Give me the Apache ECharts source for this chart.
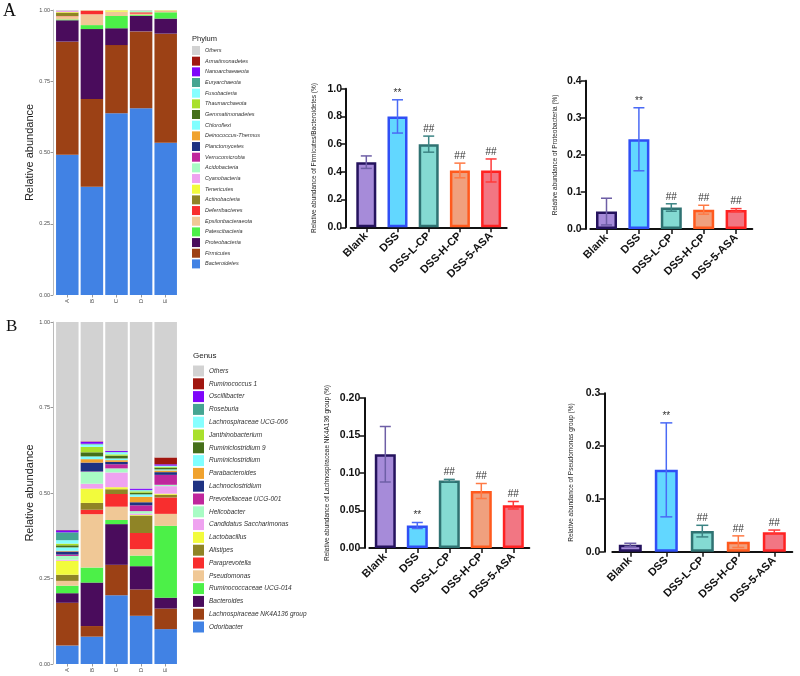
<!DOCTYPE html>
<html>
<head>
<meta charset="utf-8">
<script src="https://cdn.jsdelivr.net/npm/echarts@6/dist/echarts.min.js"></script>
<style>
  html, body { margin: 0; padding: 0; background: #fff; }
  #main { width: 800px; height: 676px; }
</style>
</head>
<body>
<div id="main"></div>
<script>
/* ========== data ========== */

const samples = ['A', 'B', 'C', 'D', 'E']
const groups = ['Blank', 'DSS', 'DSS-L-CP', 'DSS-H-CP', 'DSS-5-ASA']

// stacked bottom -> top, one row per taxon, columns = samples
const phylumNames = [
  'Bacteroidetes', 'Firmicutes', 'Proteobacteria', 'Patescibacteria', 'Epsilonbacteraeota',
  'Deferribacteres', 'Actinobacteria', 'Tenericutes', 'Cyanobacteria', 'Acidobacteria',
  'Verrucomicrobia', 'Planctomycetes', 'Deinococcus-Thermus', 'Chloroflexi', 'Gemmatimonadetes',
  'Thaumarchaeota', 'Fusobacteria', 'Euryarchaeota', 'Nanoarchaeaeota', 'Armatimonadetes', 'Others'
]
const phylumShares = [
  [0.492, 0.380, 0.638, 0.655, 0.534],
  [0.397, 0.308, 0.239, 0.270, 0.383],
  [0.075, 0.245, 0.059, 0.054, 0.053],
  [0.003, 0.014, 0.043, 0.003, 0.022],
  [0.011, 0.038, 0.015, 0.005, 0.004],
  [0.001, 0.013, 0.000, 0.005, 0.001],
  [0.012, 0.000, 0.000, 0.000, 0.000],
  [0.002, 0.001, 0.005, 0.000, 0.002],
  [0.004, 0.000, 0.000, 0.000, 0.000],
  [0.000, 0.000, 0.000, 0.005, 0.000],
  [0, 0, 0, 0, 0],
  [0, 0, 0, 0, 0],
  [0, 0, 0, 0, 0],
  [0, 0, 0, 0, 0],
  [0, 0, 0, 0, 0],
  [0, 0, 0, 0, 0],
  [0, 0, 0, 0, 0],
  [0, 0, 0, 0, 0],
  [0, 0, 0, 0, 0],
  [0, 0, 0, 0, 0],
  [0.003, 0.001, 0.001, 0.003, 0.001]
]

const genusNames = [
  'Odoribacter', 'Lachnospiraceae NK4A136 group', 'Bacteroides', 'Ruminococcaceae UCG-014', 'Pseudomonas',
  'Paraprevotella', 'Alistipes', 'Lactobacillus', 'Candidatus Saccharimonas', 'Helicobacter',
  'Prevotellaceae UCG-001', 'Lachnoclostridium', 'Parabacteroides', 'Ruminiclostridium', 'Ruminiclostridium 9',
  'Janthinobacterium', 'Lachnospiraceae UCG-006', 'Roseburia', 'Oscillibacter', 'Ruminococcus 1', 'Others'
]
const genusShares = [
  [0.054, 0.080, 0.201, 0.141, 0.102],
  [0.125, 0.031, 0.089, 0.077, 0.060],
  [0.028, 0.127, 0.119, 0.068, 0.032],
  [0.022, 0.044, 0.012, 0.031, 0.210],
  [0.014, 0.156, 0.039, 0.019, 0.035],
  [0.000, 0.013, 0.037, 0.047, 0.048],
  [0.018, 0.020, 0.014, 0.051, 0.008],
  [0.041, 0.042, 0.006, 0.002, 0.003],
  [0.003, 0.014, 0.043, 0.004, 0.022],
  [0.011, 0.035, 0.012, 0.007, 0.004],
  [0.004, 0.001, 0.012, 0.017, 0.029],
  [0.009, 0.026, 0.007, 0.009, 0.008],
  [0.002, 0.010, 0.005, 0.016, 0.005],
  [0.010, 0.008, 0.005, 0.007, 0.003],
  [0.006, 0.012, 0.008, 0.005, 0.005],
  [0.005, 0.016, 0.004, 0.004, 0.003],
  [0.010, 0.007, 0.006, 0.003, 0.002],
  [0.023, 0.002, 0.001, 0.001, 0.001],
  [0.006, 0.006, 0.003, 0.004, 0.004],
  [0.001, 0.001, 0.000, 0.000, 0.020],
  [0.608, 0.349, 0.377, 0.487, 0.396]
]

// Firmicutes / Bacteroidetes ratio
const fbMean = [0.47, 0.80, 0.60, 0.41, 0.41]
const fbErr = [0.045, 0.12, 0.058, 0.053, 0.083]
// Proteobacteria
const proMean = [0.047, 0.242, 0.058, 0.052, 0.051]
const proErr = [0.036, 0.085, 0.010, 0.012, 0.004]
// Lachnospiraceae NK4A136 group
const nkMean = [0.125, 0.030, 0.090, 0.076, 0.057]
const nkErr = [0.037, 0.004, 0.0015, 0.010, 0.005]
// Pseudomonas group
const psMean = [0.013, 0.155, 0.039, 0.019, 0.037]
const psErr = [0.003, 0.089, 0.011, 0.011, 0.004]

const sigMarks = ['', '**', '##', '##', '##']

/* ========== styles ========== */

const FONT = '"Liberation Sans", Arial, sans-serif'

const palette = [
  '#4182E4', '#9C4115', '#4A0C5C', '#4CF048', '#F0C896',
  '#F82E2E', '#8F8426', '#F2FB3C', '#EFA2F0', '#A8FCC4',
  '#C0279C', '#1E3282', '#F0A22E', '#80FFFF', '#456F1A',
  '#A9E02C', '#86FFFF', '#45A592', '#7E05FA', '#A0160F', '#D2D2D2'
]

const fills = ['#A68BD9', '#62D7FF', '#84DAD2', '#F0A07E', '#F27683']
const borders = ['#25135E', '#2F4FF5', '#2F7272', '#FF5A1E', '#FF2222']
const errColors = ['#6E5FA6', '#4A6AF5', '#3C8484', '#FF7A45', '#FF3A3A']

/* ========== builders ========== */

function stackedSeries(names, shares, gi, stackKey) {
  return names.map((n, k) => ({
    name: n,
    type: 'bar',
    stack: stackKey,
    xAxisIndex: gi,
    yAxisIndex: gi,
    barWidth: 22.5,
    itemStyle: { color: palette[k] },
    data: shares[k]
  }))
}

function stackedXAxis(gi) {
  return {
    type: 'category', gridIndex: gi, data: samples,
    axisLine: { show: false },
    axisTick: { show: true, alignWithLabel: true, length: 2.5, lineStyle: { color: '#999' } },
    axisLabel: { rotate: 90, fontSize: 6, color: '#4d4d4d', fontFamily: FONT, margin: 4 }
  }
}

function stackedYAxis(gi) {
  return {
    type: 'value', gridIndex: gi, min: 0, max: 1, interval: 0.25, offset: 2,
    name: 'Relative abundance', nameLocation: 'middle', nameGap: 17,
    nameTextStyle: { fontSize: 11, color: '#222', fontFamily: FONT },
    axisLine: { show: true, lineStyle: { color: '#bbb', width: 1 } },
    axisTick: { show: true, length: 2.5, lineStyle: { color: '#999' } },
    axisLabel: { fontSize: 5.5, color: '#4d4d4d', fontFamily: FONT, margin: 3, formatter: v => v.toFixed(2) },
    splitLine: { show: false }
  }
}

function barXAxis(gi) {
  return {
    type: 'category', gridIndex: gi, data: groups,
    axisLine: { show: true, lineStyle: { color: '#111', width: 2 } },
    axisTick: { show: true, alignWithLabel: true, length: 5, lineStyle: { color: '#111', width: 1.5 } },
    axisLabel: { rotate: 45, fontSize: 11, fontWeight: 'bold', color: '#111', fontFamily: FONT, margin: 7 }
  }
}

function barYAxis(gi, max, interval, digits, offset, name, nameGap) {
  return {
    type: 'value', gridIndex: gi, min: 0, max, interval, offset,
    name, nameLocation: 'middle', nameGap,
    nameTextStyle: { fontSize: 6.5, color: '#222', fontFamily: FONT },
    axisLine: { show: true, lineStyle: { color: '#111', width: 2 } },
    axisTick: { show: true, length: 5, lineStyle: { color: '#111', width: 1.5 } },
    axisLabel: { fontSize: 10.5, fontWeight: 'bold', color: '#111', fontFamily: FONT, margin: 4,
      formatter: v => v.toFixed(digits) },
    splitLine: { show: false }
  }
}

function meanBars(gi, mean, width) {
  return {
    type: 'bar', xAxisIndex: gi, yAxisIndex: gi, barWidth: width,
    data: mean.map((m, i) => ({
      value: m,
      itemStyle: { color: fills[i], borderColor: borders[i], borderWidth: 2.5 }
    }))
  }
}

function errorBars(gi, mean, err, capW) {
  return {
    type: 'custom', xAxisIndex: gi, yAxisIndex: gi, z: 5,
    data: mean.map((m, i) => [i, m, err[i]]),
    renderItem(params, api) {
      const i = api.value(0)
      const hi = api.coord([i, api.value(1) + api.value(2)])
      const lo = api.coord([i, api.value(1) - api.value(2)])
      const st = { stroke: errColors[params.dataIndex], lineWidth: 1.5 }
      const children = [
        { type: 'line', shape: { x1: hi[0], y1: hi[1], x2: lo[0], y2: lo[1] }, style: st },
        { type: 'line', shape: { x1: hi[0] - capW, y1: hi[1], x2: hi[0] + capW, y2: hi[1] }, style: st },
        { type: 'line', shape: { x1: lo[0] - capW, y1: lo[1], x2: lo[0] + capW, y2: lo[1] }, style: st }
      ]
      const s = sigMarks[params.dataIndex]
      if (s) {
        children.push({
          type: 'text',
          style: { text: s, x: hi[0], y: hi[1] - 2, align: 'center', verticalAlign: 'bottom',
            fill: '#333', font: '10px ' + FONT }
        })
      }
      return { type: 'group', children }
    }
  }
}

function legendFor(names, left, top, iw, ih, gap, fs) {
  return {
    orient: 'vertical', left, top, padding: 0,
    itemWidth: iw, itemHeight: ih, itemGap: gap, icon: 'rect',
    selectedMode: false,
    data: names.slice().reverse(),
    textStyle: { fontSize: fs, fontStyle: 'italic', color: '#333', fontFamily: FONT }
  }
}

/* ========== chart ========== */

const chart = echarts.init(document.getElementById('main'), null, { renderer: 'canvas' })

chart.setOption({
  animation: false,
  backgroundColor: '#fff',
  graphic: [
    { type: 'text', left: 3, top: 2, style: { text: 'A', font: '18px "Liberation Serif", serif', fill: '#111' } },
    { type: 'text', left: 6, top: 318, style: { text: 'B', font: '17px "Liberation Serif", serif', fill: '#111' } },
    { type: 'text', left: 192, top: 35, style: { text: 'Phylum', font: '7.5px ' + FONT, fill: '#222' } },
    { type: 'text', left: 193, top: 352, style: { text: 'Genus', font: '8px ' + FONT, fill: '#222' } }
  ],
  legend: [
    legendFor(phylumNames, 192, 46, 8, 9, 1.67, 5.5),
    legendFor(genusNames, 193, 365.5, 11, 11, 1.8, 6.5)
  ],
  grid: [
    { left: 55, top: 10, width: 123, height: 285 },
    { left: 55, top: 322, width: 123, height: 342 },
    { left: 350.7, top: 88.7, width: 156, height: 138.6 },
    { left: 590.3, top: 80.7, width: 162, height: 148.3 },
    { left: 369.3, top: 398, width: 160, height: 150 },
    { left: 612.3, top: 393.3, width: 180, height: 158.4 }
  ],
  xAxis: [
    stackedXAxis(0), stackedXAxis(1),
    barXAxis(2), barXAxis(3), barXAxis(4), barXAxis(5)
  ],
  yAxis: [
    stackedYAxis(0), stackedYAxis(1),
    barYAxis(2, 1.0, 0.2, 1, 4.7, 'Relative abundance of Firmicutes/Bacteroidetes (%)', 28),
    barYAxis(3, 0.4, 0.1, 1, 4.6, 'Relative abundance of Proteobacteria (%)', 27),
    barYAxis(4, 0.2, 0.05, 2, 5, 'Relative abundance of Lachnospiraceae NK4A136 group (%)', 34),
    barYAxis(5, 0.3, 0.1, 1, 8, 'Relative abundance of Pseudomonas group (%)', 30)
  ],
  series: [
    ...stackedSeries(phylumNames, phylumShares, 0, 'phylum'),
    ...stackedSeries(genusNames, genusShares, 1, 'genus'),
    meanBars(2, fbMean, 20), errorBars(2, fbMean, fbErr, 5.5),
    meanBars(3, proMean, 21), errorBars(3, proMean, proErr, 5.5),
    meanBars(4, nkMean, 21), errorBars(4, nkMean, nkErr, 5.5),
    meanBars(5, psMean, 23), errorBars(5, psMean, psErr, 6)
  ]
})
</script>
</body>
</html>
